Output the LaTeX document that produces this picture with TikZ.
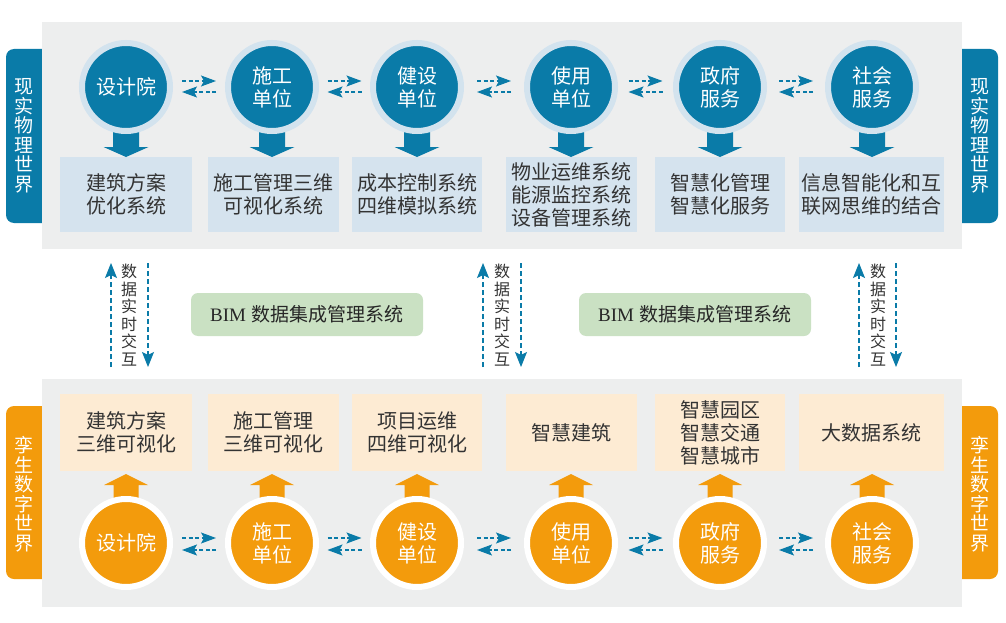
\documentclass[tikz,border=0pt]{standalone}
\usepackage{fontspec}
\newfontfamily\cjk{Noto Sans CJK SC}
\newfontfamily\bimfont{Liberation Serif}
\usetikzlibrary{arrows.meta,calc}
\definecolor{blueA}{HTML}{0A7BA8}
\definecolor{ringT}{HTML}{D3E3EE}
\definecolor{boxT}{HTML}{D5E3EE}
\definecolor{panelc}{HTML}{EDEEEE}
\definecolor{orangeA}{HTML}{F39B0C}
\definecolor{boxB}{HTML}{FDEBD3}
\definecolor{bimc}{HTML}{CAE1C3}
\definecolor{txt}{HTML}{333333}
\tikzset{
  panel/.style={fill=panelc, draw=none, inner sep=0pt, outer sep=0pt},
  tab/.style={draw=none, rounded corners=8pt, inner sep=0pt, minimum width=44pt},
  tabtext/.style={text=white, align=center, inner sep=0pt, font=\cjk\fontsize{19}{19.5}\selectfont},
  circbase/.style={circle, minimum size=88pt, inner sep=0pt, outer sep=0pt, line width=6pt,
    text=white, align=center, font=\cjk\fontsize{20}{23}\selectfont},
  ctop/.style={circbase, draw=ringT, fill=blueA},
  cbot/.style={circbase, draw=white, fill=orangeA},
  boxbase/.style={draw=none, inner sep=0pt, outer sep=0pt, text=txt, align=center,
    font=\cjk\fontsize{20}{23}\selectfont},
  tbox/.style={boxbase, fill=boxT, minimum height=75pt},
  bbox/.style={boxbase, fill=boxB, minimum height=77pt},
  bim/.style={fill=bimc, rounded corners=7pt, minimum width=232pt, minimum height=43pt,
    inner sep=0pt, text=black!85, font=\fontsize{19}{22}\selectfont},
  vtext/.style={text=txt, align=center, inner sep=0pt, font=\cjk\fontsize{16}{17.5}\selectfont},
  harrow/.style={draw=blueA, line width=1.1pt, dash pattern=on 4pt off 2.5pt,
    -{Stealth[length=15pt,width=11pt,inset=3pt]}},
  varrow/.style={draw=blueA, line width=1.1pt, dash pattern=on 5pt off 3pt,
    -{Stealth[length=15pt,width=12pt,inset=3pt]}}
}
\begin{document}
\begin{tikzpicture}[x=1pt,y=-1pt]
\useasboundingbox (0,0) rectangle (1006,623);
\fill[white] (0,0) rectangle (1006,623);

% side tabs (drawn under the panels)
\node[tab, fill=blueA, minimum height=174pt] (tabTL) at (28,136) {};
\node[tab, fill=blueA, minimum height=174pt] (tabTR) at (976,136) {};
\node[tab, fill=orangeA, minimum height=173pt] (tabBL) at (28,492.5) {};
\node[tab, fill=orangeA, minimum height=173pt] (tabBR) at (976,492.5) {};

% panels
\node[panel, minimum width=920pt, minimum height=227pt] (ptop) at (502,135.5) {};
\node[panel, minimum width=920pt, minimum height=228pt] (pbot) at (502,493) {};

% tab texts
\node[tabtext] (ttl) at (24,136) {现\\实\\物\\理\\世\\界};
\node[tabtext] (ttr) at (980,136) {现\\实\\物\\理\\世\\界};
\node[tabtext] (tbl) at (24,494) {孪\\生\\数\\字\\世\\界};
\node[tabtext] (tbr) at (980,494) {孪\\生\\数\\字\\世\\界};

% top boxes
\node[tbox, minimum width=132pt] (t1) at (126,194.5) {建筑方案\\优化系统};
\node[tbox, minimum width=131pt] (t2) at (273.5,194.5) {施工管理三维\\可视化系统};
\node[tbox, minimum width=130pt] (t3) at (417,194.5) {成本控制系统\\四维模拟系统};
\node[tbox, minimum width=131pt] (t4) at (571.5,194.5) {物业运维系统\\能源监控系统\\设备管理系统};
\node[tbox, minimum width=130pt] (t5) at (720,194.5) {智慧化管理\\智慧化服务};
\node[tbox, minimum width=145pt] (t6) at (871.5,194.5) {信息智能化和互\\联网思维的结合};

% bottom boxes
\node[bbox, minimum width=132pt] (b1) at (126,432.5) {建筑方案\\三维可视化};
\node[bbox, minimum width=131pt] (b2) at (273.5,432.5) {施工管理\\三维可视化};
\node[bbox, minimum width=130pt] (b3) at (417,432.5) {项目运维\\四维可视化};
\node[bbox, minimum width=131pt] (b4) at (571.5,432.5) {智慧建筑};
\node[bbox, minimum width=130pt] (b5) at (720,432.5) {智慧园区\\智慧交通\\智慧城市};
\node[bbox, minimum width=145pt] (b6) at (871.5,432.5) {大数据系统};

% circle positions
\foreach \i/\x in {1/126,2/272,3/417,4/571,5/720,6/872}{
  \coordinate (pc\i) at (\x,87);
  \coordinate (pd\i) at (\x,543);
}

% block arrows
\foreach \i in {1,...,6}{
  \fill[blueA] (pc\i |- t\i.north) -- ++(22.5,-10) -- ++(-9.5,0) -- ++(0,-16) -- ++(-26,0)
    -- ++(0,16) -- ++(-9.5,0) -- cycle;
  \fill[orangeA] ($(pd\i |- b\i.south)+(0,3)$) -- ++(22,11) -- ++(-9.5,0) -- ++(0,14) -- ++(-25,0)
    -- ++(0,-14) -- ++(-9.5,0) -- cycle;
}

% circles
\node[ctop] (c1) at (pc1) {设计院};
\node[ctop] (c2) at (pc2) {施工\\单位};
\node[ctop] (c3) at (pc3) {健设\\单位};
\node[ctop] (c4) at (pc4) {使用\\单位};
\node[ctop] (c5) at (pc5) {政府\\服务};
\node[ctop] (c6) at (pc6) {社会\\服务};
\node[cbot] (d1) at (pd1) {设计院};
\node[cbot] (d2) at (pd2) {施工\\单位};
\node[cbot] (d3) at (pd3) {健设\\单位};
\node[cbot] (d4) at (pd4) {使用\\单位};
\node[cbot] (d5) at (pd5) {政府\\服务};
\node[cbot] (d6) at (pd6) {社会\\服务};

% horizontal dashed arrows
\foreach \a/\b in {1/2,2/3,3/4,4/5,5/6}{
  \draw[harrow] ($(c\a)!0.5!(c\b)+(-17,-6)$) -- ($(c\a)!0.5!(c\b)+(17,-6)$);
  \draw[harrow] ($(c\a)!0.5!(c\b)+(17,5)$) -- ($(c\a)!0.5!(c\b)+(-17,5)$);
  \draw[harrow] ($(d\a)!0.5!(d\b)+(-17,-5)$) -- ($(d\a)!0.5!(d\b)+(17,-5)$);
  \draw[harrow] ($(d\a)!0.5!(d\b)+(17,7)$) -- ($(d\a)!0.5!(d\b)+(-17,7)$);
}

% vertical data exchange arrows
\foreach \k/\u/\d/\m in {1/111/148/129,2/483/521/502,3/859/896/878}{
  \coordinate (ua\k) at (\u,367);
  \coordinate (ub\k) at (\u,263);
  \coordinate (da\k) at (\d,263);
  \coordinate (db\k) at (\d,367);
  \draw[varrow] (ua\k) -- (ub\k);
  \draw[varrow] (da\k) -- (db\k);
  \node[vtext] (vt\k) at (\m,315) {数\\据\\实\\时\\交\\互};
}

% BIM boxes
\node[bim] (bim1) at (307,314.5) {{\bimfont BIM} {\cjk 数据集成管理系统}};
\node[bim] (bim2) at (695,314.5) {{\bimfont BIM} {\cjk 数据集成管理系统}};
\end{tikzpicture}
\end{document}
